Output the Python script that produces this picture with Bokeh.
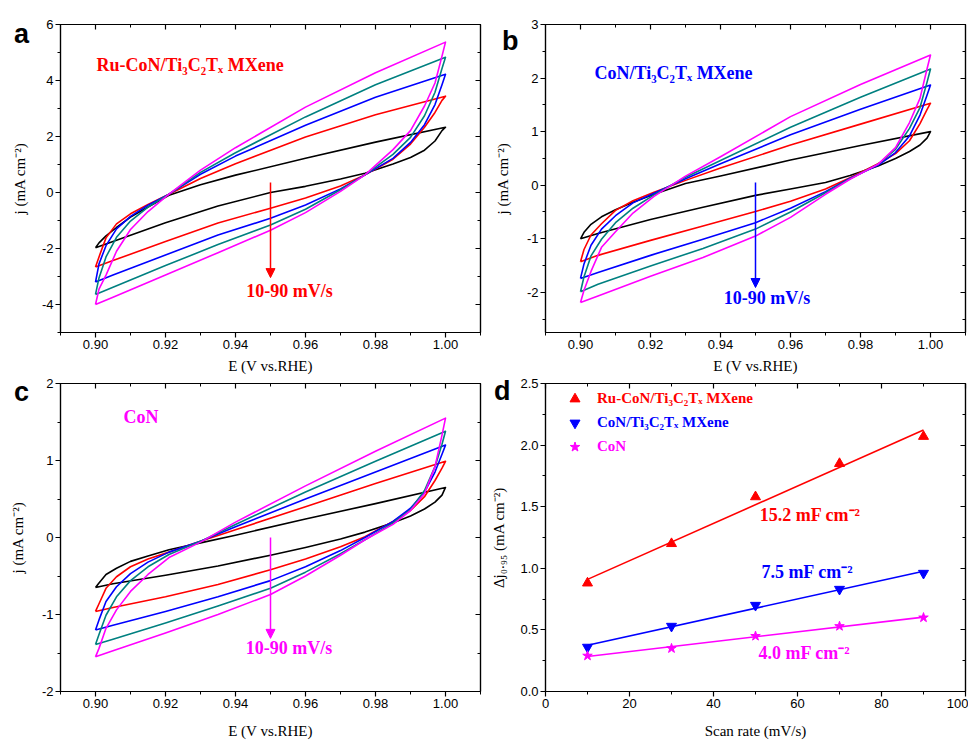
import numpy as np
from bokeh.plotting import figure
from bokeh.layouts import column, row
from bokeh.models import (Range1d, LinearAxis, FixedTicker, PrintfTickFormatter, Div,
                          CustomJSTickFormatter, Label, Arrow, NormalHead, Legend, LegendItem)
from bokeh.embed import file_html
from bokeh.resources import INLINE

# ---------------- data ----------------
SCAN_RATES = [10, 30, 50, 70, 90]
E_UP = [0.900, 0.901, 0.903, 0.906, 0.910, 0.915, 0.921, 0.930, 0.940, 0.960, 0.980, 1.000]
E_DN = [1.000, 0.999, 0.997, 0.994, 0.990, 0.985, 0.977, 0.970, 0.960, 0.950, 0.935, 0.920, 0.905, 0.900]

# panel a : Ru-CoN/Ti3C2Tx MXene
a_up_10 = [-1.97, -1.80, -1.55, -1.25, -0.88, -0.52, -0.10, 0.28, 0.62, 1.22, 1.80, 2.33]
a_up_30 = [-2.66, -2.30, -1.62, -1.12, -0.76, -0.43, -0.06, 0.50, 1.03, 1.98, 2.78, 3.44]
a_up_50 = [-3.20, -2.55, -1.90, -1.30, -0.85, -0.45, -0.06, 0.65, 1.30, 2.40, 3.40, 4.22]
a_up_70 = [-3.64, -3.05, -2.30, -1.60, -1.02, -0.52, -0.06, 0.72, 1.42, 2.70, 3.85, 4.83]
a_up_90 = [-4.00, -3.45, -2.95, -2.10, -1.32, -0.68, -0.06, 0.80, 1.60, 3.05, 4.28, 5.37]
a_dn_10 = [2.33, 2.21, 1.84, 1.51, 1.25, 1.02, 0.69, 0.48, 0.22, 0.00, -0.48, -1.08, -1.75, -1.97]
a_dn_30 = [3.44, 3.29, 2.86, 2.33, 1.73, 1.19, 0.63, 0.23, -0.20, -0.56, -1.09, -1.75, -2.43, -2.66]
a_dn_50 = [4.22, 3.85, 3.14, 2.42, 1.79, 1.22, 0.63, 0.13, -0.45, -0.92, -1.52, -2.23, -2.95, -3.20]
a_dn_70 = [4.83, 4.43, 3.58, 2.74, 1.97, 1.36, 0.63, 0.10, -0.60, -1.16, -1.86, -2.61, -3.38, -3.64]
a_dn_90 = [5.37, 4.87, 3.91, 3.09, 2.21, 1.53, 0.63, 0.04, -0.72, -1.35, -2.15, -2.95, -3.74, -4.00]

# panel b : CoN/Ti3C2Tx MXene
b_up_10 = [-1.00, -0.88, -0.73, -0.59, -0.46, -0.32, -0.17, 0.03, 0.17, 0.47, 0.74, 1.00]
b_up_30 = [-1.43, -1.20, -0.93, -0.72, -0.47, -0.29, -0.13, 0.09, 0.32, 0.75, 1.14, 1.53]
b_up_50 = [-1.74, -1.47, -1.12, -0.82, -0.57, -0.33, -0.15, 0.12, 0.40, 0.94, 1.42, 1.87]
b_up_70 = [-1.99, -1.71, -1.32, -1.01, -0.70, -0.43, -0.18, 0.15, 0.46, 1.08, 1.64, 2.17]
b_up_90 = [-2.19, -1.96, -1.61, -1.16, -0.87, -0.52, -0.21, 0.17, 0.53, 1.28, 1.88, 2.43]
b_dn_10 = [1.00, 0.88, 0.75, 0.63, 0.50, 0.36, 0.18, 0.05, -0.07, -0.19, -0.41, -0.64, -0.90, -1.00]
b_dn_30 = [1.53, 1.41, 1.15, 0.83, 0.59, 0.40, 0.14, -0.07, -0.30, -0.49, -0.76, -1.03, -1.31, -1.43]
b_dn_50 = [1.87, 1.68, 1.31, 0.92, 0.61, 0.37, 0.13, -0.12, -0.43, -0.70, -1.01, -1.31, -1.63, -1.74]
b_dn_70 = [2.17, 1.92, 1.45, 1.06, 0.67, 0.39, 0.12, -0.14, -0.50, -0.82, -1.18, -1.51, -1.85, -1.99]
b_dn_90 = [2.43, 2.17, 1.62, 1.17, 0.70, 0.39, 0.11, -0.17, -0.60, -0.95, -1.35, -1.70, -2.07, -2.19]

# panel c : CoN
c_up_10 = [-0.65, -0.59, -0.48, -0.40, -0.31, -0.24, -0.16, -0.07, 0.03, 0.24, 0.44, 0.65]
c_up_30 = [-0.96, -0.86, -0.66, -0.51, -0.38, -0.28, -0.19, -0.05, 0.10, 0.40, 0.70, 0.99]
c_up_50 = [-1.20, -1.07, -0.83, -0.64, -0.47, -0.32, -0.19, -0.05, 0.14, 0.50, 0.85, 1.20]
c_up_70 = [-1.39, -1.26, -1.01, -0.77, -0.56, -0.38, -0.22, -0.05, 0.17, 0.59, 0.99, 1.38]
c_up_90 = [-1.55, -1.44, -1.18, -0.94, -0.70, -0.48, -0.26, -0.06, 0.20, 0.67, 1.12, 1.55]
c_dn_10 = [0.65, 0.55, 0.46, 0.37, 0.28, 0.19, 0.07, -0.02, -0.13, -0.23, -0.37, -0.49, -0.60, -0.65]
c_dn_30 = [0.99, 0.90, 0.74, 0.53, 0.35, 0.21, 0.01, -0.12, -0.28, -0.42, -0.61, -0.77, -0.91, -0.96]
c_dn_50 = [1.20, 1.08, 0.85, 0.59, 0.38, 0.21, 0.00, -0.17, -0.38, -0.56, -0.77, -0.96, -1.14, -1.20]
c_dn_70 = [1.38, 1.21, 0.92, 0.61, 0.36, 0.19, -0.03, -0.21, -0.45, -0.66, -0.89, -1.11, -1.32, -1.39]
c_dn_90 = [1.55, 1.33, 0.92, 0.57, 0.35, 0.17, -0.03, -0.23, -0.50, -0.74, -1.00, -1.24, -1.47, -1.55]

# panel d : delta j at 0.95 V vs scan rate
d_rate = [10, 30, 50, 70, 90]
d_ru_con_mx = [0.88, 1.20, 1.58, 1.85, 2.07]
d_con_mx = [0.36, 0.53, 0.70, 0.83, 0.96]
d_con = [0.29, 0.35, 0.45, 0.53, 0.60]
d_names = ["Ru-CoN/Ti\u2083C\u2082T\u2093 MXene", "CoN/Ti\u2083C\u2082T\u2093 MXene", "CoN"]
d_cdl_labels = ["15.2 mF cm\u207b\u00b2", "7.5 mF cm\u207b\u00b2", "4.0 mF cm\u207b\u00b2"]
PANEL_LETTERS = ["a", "b", "c", "d"]

# ticks
E_TICKS = [0.90, 0.92, 0.94, 0.96, 0.98, 1.00]
E_MINOR = [0.89, 0.91, 0.93, 0.95, 0.97, 0.99, 1.01]
A_TICKS = [-4, -2, 0, 2, 4, 6]
A_MINOR = [-5, -3, -1, 1, 3, 5]
B_TICKS = [-2, -1, 0, 1, 2, 3]
B_MINOR = [-2.5, -1.5, -0.5, 0.5, 1.5, 2.5]
C_TICKS = [-2, -1, 0, 1, 2]
C_MINOR = [-1.5, -0.5, 0.5, 1.5]
D_XTICKS = [0, 20, 40, 60, 80, 100]
D_XMINOR = [10, 30, 50, 70, 90]
D_YTICKS = [0.0, 0.5, 1.0, 1.5, 2.0, 2.5]
D_YMINOR = [0.25, 0.75, 1.25, 1.75, 2.25]

# ---------------- style ----------------
CV_COLORS = ["#000000", "#ff0000", "#0000ff", "#008080", "#ff00ff"]
SANS = "Liberation Sans"
SERIF = "Liberation Serif"


def make_fig(xr, yr, left, right, top, bottom):
    p = figure(frame_width=420, frame_height=308, x_range=Range1d(*xr), y_range=Range1d(*yr),
               output_backend="svg", toolbar_location=None,
               min_border_left=left, min_border_right=right,
               min_border_top=top, min_border_bottom=bottom,
               x_axis_location=None, y_axis_location=None)
    p.grid.visible = False
    p.outline_line_color = "black"
    p.outline_line_width = 1.2
    return p


def add_axes(p, xt, xm, yt, ym, xfmt, yfmt, xlabel, ylabel, xstd, ystd):
    for place in ["below", "left", "above", "right"]:
        horiz = place in ("below", "above")
        ax = LinearAxis()
        ax.ticker = FixedTicker(ticks=xt if horiz else yt, minor_ticks=xm if horiz else ym)
        ax.axis_line_color = "black"
        ax.axis_line_width = 1.2
        ax.major_tick_line_color = "black"
        ax.minor_tick_line_color = "black"
        ax.major_tick_line_width = 1.2
        ax.minor_tick_line_width = 1.0
        if place in ("below", "left"):
            ax.major_tick_out = 5
            ax.major_tick_in = 0
            ax.minor_tick_out = 3
            ax.minor_tick_in = 0
            ax.formatter = PrintfTickFormatter(format=xfmt if horiz else yfmt)
            ax.major_label_text_font = SANS
            ax.major_label_text_font_size = "13px"
            ax.major_label_text_color = "#000000"
            ax.major_label_standoff = 2
            ax.axis_label = xlabel if horiz else ylabel
            ax.axis_label_text_font = SERIF
            ax.axis_label_text_font_size = "15px"
            ax.axis_label_text_font_style = "normal"
            ax.axis_label_text_color = "#000000"
            ax.axis_label_standoff = xstd if horiz else ystd
        else:
            ax.major_tick_out = 0
            ax.major_tick_in = 5
            ax.minor_tick_out = 0
            ax.minor_tick_in = 3
            ax.formatter = CustomJSTickFormatter(code="return ''")
            ax.major_label_text_font_size = "1px"
            ax.major_label_standoff = 0
            ax.axis_label_standoff = 0
        p.add_layout(ax, place)


def txt(p, x, y, text, color, size="17px"):
    p.add_layout(Label(x=x, y=y, text=text, text_color=color, text_font=SERIF,
                       text_font_style="bold", text_font_size=size,
                       text_baseline="middle", text_align="left"))


def cv_panel(xr, yr, left, right, top, bottom, yt, ym, xstd, ystd, ups, dns):
    p = make_fig(xr, yr, left, right, top, bottom)
    add_axes(p, E_TICKS, E_MINOR, yt, ym, "%.2f", "%d",
             "E (V vs.RHE)", "j (mA cm\u207b\u00b2)", xstd, ystd)
    for up, dn, col in zip(ups, dns, CV_COLORS):
        xs = list(E_UP) + list(E_DN[1:])
        ys = list(up) + list(dn[1:])
        p.line(xs, ys, line_color=col, line_width=1.6, line_join="round")
    return p


# ---------------- panel a ----------------
pa = cv_panel((0.89, 1.01), (-5, 6), 60, 8, 24, 44, A_TICKS, A_MINOR, 6, 11,
              [a_up_10, a_up_30, a_up_50, a_up_70, a_up_90],
              [a_dn_10, a_dn_30, a_dn_50, a_dn_70, a_dn_90])
txt(pa, 0.9003, 4.57, "Ru-CoN/Ti\u2083C\u2082T\u2093 MXene", "#ff0000", "18px")
txt(pa, 0.9431, -3.5, "10-90 mV/s", "#ff0000", "18px")
pa.add_layout(Arrow(end=NormalHead(size=9, fill_color="#ff0000", line_color="#ff0000"),
                    x_start=0.95, y_start=0.36, x_end=0.95, y_end=-3.04,
                    line_color="#ff0000", line_width=1.5))

# ---------------- panel b ----------------
pb = cv_panel((0.89, 1.01), (-2.75, 3), 57, 3, 24, 44, B_TICKS, B_MINOR, 6, 13,
              [b_up_10, b_up_30, b_up_50, b_up_70, b_up_90],
              [b_dn_10, b_dn_30, b_dn_50, b_dn_70, b_dn_90])
txt(pb, 0.904, 2.10, "CoN/Ti\u2083C\u2082T\u2093 MXene", "#0000ff", "18px")
txt(pb, 0.9409, -2.11, "10-90 mV/s", "#0000ff", "18px")
pb.add_layout(Arrow(end=NormalHead(size=9, fill_color="#0000ff", line_color="#0000ff"),
                    x_start=0.95, y_start=0.05, x_end=0.95, y_end=-1.91,
                    line_color="#0000ff", line_width=1.5))

# ---------------- panel c ----------------
pc = cv_panel((0.89, 1.01), (-2, 2), 60, 8, 7, 50, C_TICKS, C_MINOR, 12, 13,
              [c_up_10, c_up_30, c_up_50, c_up_70, c_up_90],
              [c_dn_10, c_dn_30, c_dn_50, c_dn_70, c_dn_90])
txt(pc, 0.908, 1.56, "CoN", "#ff00ff", "18px")
txt(pc, 0.9429, -1.44, "10-90 mV/s", "#ff00ff", "18px")
pc.add_layout(Arrow(end=NormalHead(size=9, fill_color="#ff00ff", line_color="#ff00ff"),
                    x_start=0.95, y_start=0.0, x_end=0.95, y_end=-1.31,
                    line_color="#ff00ff", line_width=1.5))

# ---------------- panel d ----------------
pd_ = make_fig((0, 100), (0, 2.5), 57, 3, 7, 50)
add_axes(pd_, D_XTICKS, D_XMINOR, D_YTICKS, D_YMINOR, "%d", "%.1f",
         "Scan rate (mV/s)", "\u0394j\u2080.\u2089\u2085 (mA cm\u207b\u00b2)", 12, 10)
d_series = [d_ru_con_mx, d_con_mx, d_con]
d_colors = ["#ff0000", "#0000ff", "#ff00ff"]
d_markers = ["triangle", "inverted_triangle", "star"]
legend_y = [280, 256, 232]
for vals, col, mk, name, ly in zip(d_series, d_colors, d_markers, d_names, legend_y):
    coef = np.polyfit(d_rate, vals, 1)
    xs = [d_rate[0], d_rate[-1]]
    pd_.line(xs, list(np.polyval(coef, xs)), line_color=col, line_width=1.6)
    r = pd_.scatter(d_rate, vals, marker=mk, size=10, fill_color=col, line_color=col)
    leg = Legend(items=[LegendItem(label=name, renderers=[r])], location=(17, ly),
                 padding=0, margin=0, spacing=0, border_line_color=None,
                 background_fill_alpha=0, glyph_width=25, glyph_height=25,
                 label_standoff=10, label_height=16,
                 label_text_font=SERIF, label_text_font_style="bold",
                 label_text_font_size="15px", label_text_color=col)
    pd_.add_layout(leg)
for (lx, lyv), lab, col in zip([(51, 1.43), (51.4, 0.97), (50.7, 0.31)], d_cdl_labels, d_colors):
    txt(pd_, lx, lyv, lab, col, "18px")

# panel letters (outside the plot frames) as real text in an overlay div
letter_pos = [(14, 9), (502, 16), (14, 367), (494, 366)]
spans = "".join(
    '<span style="position:absolute;left:%dpx;top:%dpx;font-family:\'Liberation Sans\';'
    'font-weight:bold;font-size:27px;line-height:27px;color:#000;white-space:nowrap;">%s</span>'
    % (lx, ty, ch) for (lx, ty), ch in zip(letter_pos, PANEL_LETTERS))
letters = Div(text='<div style="position:relative;width:0;height:0;">' + spans + '</div>',
              width=968, height=0, margin=0,
              styles={"overflow": "visible", "position": "relative", "z-index": "10"})

layout = column(letters, row(pa, pb, spacing=0), row(pc, pd_, spacing=0), spacing=0)
open("out.html", "w").write(file_html(layout, INLINE))
